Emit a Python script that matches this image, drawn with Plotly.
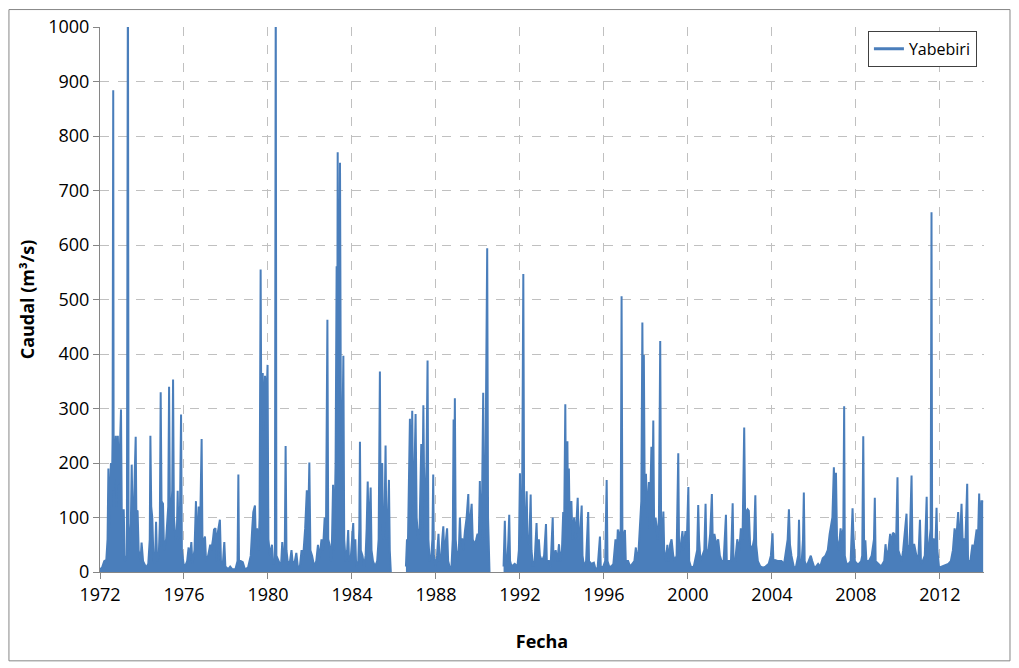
import plotly.graph_objects as go

# Decimal-year positions and daily-flow readings (m3/s)
anio = [
    1972.00, 1972.10, 1972.20, 1972.30, 1972.36, 1972.40, 1972.43, 1972.48, 1972.52, 1972.56,
    1972.60, 1972.63, 1972.65, 1972.70, 1972.75, 1972.78, 1972.85, 1972.90, 1972.95, 1973.00,
    1973.04, 1973.10, 1973.13, 1973.18, 1973.28, 1973.33, 1973.36, 1973.42, 1973.47, 1973.51,
    1973.55, 1973.62, 1973.66, 1973.70, 1973.73, 1973.79, 1973.84, 1973.93, 1973.98, 1974.05,
    1974.20, 1974.30, 1974.37, 1974.40, 1974.44, 1974.49, 1974.55, 1974.62, 1974.67, 1974.72,
    1974.80, 1974.85, 1974.89, 1974.93, 1975.00, 1975.05, 1975.15, 1975.20, 1975.25, 1975.29,
    1975.33, 1975.38, 1975.44, 1975.48, 1975.52, 1975.60, 1975.66, 1975.70, 1975.74, 1975.80,
    1975.86, 1975.90, 1975.98, 1976.05, 1976.15, 1976.22, 1976.27, 1976.35, 1976.40, 1976.50,
    1976.57, 1976.62, 1976.70, 1976.76, 1976.84, 1976.88, 1977.00, 1977.05, 1977.15, 1977.25,
    1977.30, 1977.38, 1977.43, 1977.50, 1977.55, 1977.60, 1977.65, 1977.71, 1977.76, 1977.85,
    1977.92, 1977.97, 1978.10, 1978.20, 1978.30, 1978.45, 1978.55, 1978.59, 1978.62, 1978.70,
    1978.80, 1978.90, 1979.05, 1979.18, 1979.25, 1979.30, 1979.38, 1979.42, 1979.48, 1979.55,
    1979.60, 1979.65, 1979.68, 1979.72, 1979.75, 1979.80, 1979.86, 1979.92, 1979.98, 1980.02,
    1980.10, 1980.19, 1980.25, 1980.33, 1980.37, 1980.40, 1980.50, 1980.62, 1980.68, 1980.75,
    1980.80, 1980.84, 1980.88, 1980.95, 1981.05, 1981.12, 1981.18, 1981.28, 1981.35, 1981.42,
    1981.52, 1981.60, 1981.68, 1981.77, 1981.85, 1981.90, 1981.97, 1982.02, 1982.10, 1982.20,
    1982.30, 1982.38, 1982.45, 1982.55, 1982.62, 1982.70, 1982.76, 1982.83, 1982.87, 1982.93,
    1983.00, 1983.05, 1983.10, 1983.15, 1983.22, 1983.27, 1983.30, 1983.32, 1983.36, 1983.40,
    1983.43, 1983.47, 1983.52, 1983.56, 1983.59, 1983.63, 1983.70, 1983.77, 1983.82, 1983.86,
    1983.95, 1984.00, 1984.06, 1984.10, 1984.16, 1984.20, 1984.30, 1984.35, 1984.38, 1984.42,
    1984.50, 1984.58, 1984.65, 1984.70, 1984.75, 1984.80, 1984.85, 1984.89, 1984.93, 1985.00,
    1985.10, 1985.20, 1985.27, 1985.33, 1985.37, 1985.44, 1985.48, 1985.55, 1985.60, 1985.64,
    1985.70, 1985.76, 1985.80, 1985.85, 1985.86, 1986.56, 1986.57, 1986.62, 1986.66, 1986.72,
    1986.76, 1986.80, 1986.84, 1986.87, 1986.91, 1986.96, 1987.03, 1987.08, 1987.15, 1987.22,
    1987.30, 1987.34, 1987.40, 1987.44, 1987.50, 1987.55, 1987.60, 1987.64, 1987.70, 1987.78,
    1987.83, 1987.87, 1987.90, 1987.98, 1988.05, 1988.12, 1988.17, 1988.25, 1988.30, 1988.35,
    1988.40, 1988.47, 1988.53, 1988.58, 1988.66, 1988.74, 1988.80, 1988.84, 1988.87, 1988.90,
    1988.94, 1989.02, 1989.09, 1989.14, 1989.18, 1989.25, 1989.30, 1989.38, 1989.46, 1989.54,
    1989.58, 1989.64, 1989.70, 1989.75, 1989.82, 1989.92, 1989.98, 1990.04, 1990.09, 1990.13,
    1990.20, 1990.25, 1990.29, 1990.35, 1990.40, 1990.44, 1990.48, 1990.53, 1990.55, 1990.56,
    1991.20, 1991.22, 1991.28, 1991.32, 1991.40, 1991.45, 1991.49, 1991.53, 1991.60, 1991.75,
    1991.88, 1991.95, 1992.00, 1992.04, 1992.10, 1992.16, 1992.20, 1992.26, 1992.32, 1992.36,
    1992.44, 1992.51, 1992.55, 1992.62, 1992.70, 1992.79, 1992.83, 1992.90, 1992.95, 1993.05,
    1993.15, 1993.24, 1993.28, 1993.38, 1993.46, 1993.56, 1993.60, 1993.70, 1993.78, 1993.86,
    1993.92, 1994.00, 1994.06, 1994.10, 1994.16, 1994.19, 1994.26, 1994.29, 1994.33, 1994.37,
    1994.45, 1994.50, 1994.58, 1994.65, 1994.75, 1994.80, 1994.88, 1994.94, 1994.98, 1995.05,
    1995.15, 1995.25, 1995.29, 1995.40, 1995.52, 1995.60, 1995.70, 1995.81, 1995.85, 1995.95,
    1996.06, 1996.13, 1996.17, 1996.25, 1996.35, 1996.45, 1996.55, 1996.60, 1996.66, 1996.72,
    1996.80, 1996.84, 1996.88, 1997.00, 1997.04, 1997.15, 1997.25, 1997.35, 1997.45, 1997.52,
    1997.57, 1997.65, 1997.72, 1997.78, 1997.83, 1997.87, 1997.90, 1997.94, 1998.00, 1998.06,
    1998.14, 1998.18, 1998.26, 1998.30, 1998.35, 1998.39, 1998.46, 1998.55, 1998.62, 1998.68,
    1998.72, 1998.78, 1998.83, 1998.87, 1998.95, 1999.02, 1999.08, 1999.15, 1999.22, 1999.30,
    1999.38, 1999.46, 1999.54, 1999.58, 1999.66, 1999.74, 1999.80, 1999.88, 1999.95, 2000.02,
    2000.06, 2000.15, 2000.28, 2000.38, 2000.44, 2000.49, 2000.53, 2000.60, 2000.70, 2000.78,
    2000.84, 2000.88, 2000.98, 2001.06, 2001.14, 2001.18, 2001.26, 2001.35, 2001.44, 2001.52,
    2001.60, 2001.70, 2001.81, 2001.85, 2001.95, 2002.05, 2002.13, 2002.17, 2002.25, 2002.35,
    2002.45, 2002.52, 2002.60, 2002.68, 2002.72, 2002.78, 2002.84, 2002.90, 2002.96, 2003.05,
    2003.15, 2003.21, 2003.25, 2003.33, 2003.45, 2003.58, 2003.70, 2003.85, 2003.95, 2004.03,
    2004.07, 2004.15, 2004.30, 2004.45, 2004.58, 2004.68, 2004.75, 2004.81, 2004.86, 2004.93,
    2005.05, 2005.15, 2005.25, 2005.29, 2005.33, 2005.42, 2005.48, 2005.52, 2005.56, 2005.65,
    2005.75, 2005.85, 2005.92, 2006.02, 2006.10, 2006.20, 2006.30, 2006.42, 2006.55, 2006.66,
    2006.75, 2006.82, 2006.88, 2006.95, 2007.00, 2007.05, 2007.10, 2007.18, 2007.27, 2007.32,
    2007.40, 2007.44, 2007.47, 2007.55, 2007.65, 2007.75, 2007.84, 2007.88, 2007.95, 2008.05,
    2008.15, 2008.25, 2008.30, 2008.35, 2008.39, 2008.45, 2008.50, 2008.62, 2008.75, 2008.86,
    2008.90, 2008.94, 2009.05, 2009.20, 2009.35, 2009.41, 2009.46, 2009.55, 2009.63, 2009.70,
    2009.76, 2009.82, 2009.90, 2009.98, 2010.02, 2010.10, 2010.18, 2010.25, 2010.32, 2010.41,
    2010.45, 2010.55, 2010.65, 2010.69, 2010.78, 2010.88, 2010.98, 2011.05, 2011.10, 2011.18,
    2011.28, 2011.37, 2011.41, 2011.50, 2011.56, 2011.60, 2011.63, 2011.70, 2011.78, 2011.84,
    2011.88, 2011.96, 2012.10, 2012.25, 2012.40, 2012.52, 2012.62, 2012.70, 2012.78, 2012.87,
    2012.92, 2012.98, 2013.03, 2013.08, 2013.15, 2013.22, 2013.30, 2013.34, 2013.45, 2013.55,
    2013.62, 2013.70, 2013.75, 2013.80, 2013.87, 2013.92, 2013.98, 2014.06,
]

caudal = [
    5, 8, 20, 22, 60, 190, 80, 150, 200, 120,
    250, 884, 150, 200, 250, 120, 250, 160, 250, 298,
    90, 60, 115, 20, 30, 1150, 40, 60, 90, 197,
    100, 120, 190, 248, 110, 113, 40, 20, 54, 20,
    8, 15, 60, 250, 120, 100, 20, 15, 92, 20,
    30, 90, 330, 130, 125, 40, 60, 100, 120, 340,
    120, 100, 150, 353, 100, 60, 70, 149, 60, 80,
    289, 40, 15, 10, 20, 45, 20, 55, 15, 40,
    130, 40, 120, 60, 244, 50, 65, 20, 30, 50,
    40, 60, 78, 80, 20, 70, 85, 96, 20, 15,
    55, 10, 5, 10, 5, 5, 20, 179, 20, 20,
    18, 5, 8, 30, 80, 110, 122, 60, 80, 40,
    100, 555, 300, 360, 365, 260, 360, 300, 380, 60,
    30, 50, 15, 20, 1100, 30, 20, 10, 55, 20,
    40, 231, 40, 15, 20, 40, 15, 20, 35, 10,
    10, 40, 30, 80, 150, 60, 201, 40, 30, 10,
    20, 50, 25, 60, 40, 100, 60, 463, 60, 50,
    20, 60, 160, 40, 200, 561, 360, 770, 380, 360,
    751, 300, 250, 300, 397, 60, 20, 40, 77, 20,
    30, 60, 90, 30, 60, 10, 20, 80, 239, 40,
    30, 10, 30, 80, 166, 60, 100, 155, 40, 20,
    10, 20, 60, 368, 80, 200, 60, 100, 232, 60,
    80, 169, 40, 0, None, None, 10, 60, 40, 150,
    281, 100, 200, 296, 120, 150, 290, 100, 60, 80,
    235, 80, 306, 150, 130, 200, 388, 60, 20, 30,
    60, 179, 30, 10, 30, 70, 20, 30, 60, 84,
    30, 60, 80, 20, 8, 10, 60, 280, 150, 319,
    60, 20, 40, 100, 60, 60, 40, 75, 100, 143,
    60, 100, 125, 60, 50, 60, 70, 60, 167, 60,
    150, 329, 60, 150, 330, 594, 100, 30, 0, None,
    None, 10, 94, 30, 20, 60, 105, 20, 10, 15,
    10, 40, 181, 60, 100, 547, 100, 80, 148, 60,
    50, 142, 40, 10, 20, 90, 40, 60, 30, 20,
    30, 88, 20, 20, 10, 100, 20, 40, 20, 51,
    20, 40, 110, 60, 308, 120, 240, 100, 190, 80,
    130, 60, 100, 60, 136, 60, 80, 122, 30, 10,
    20, 110, 20, 15, 17, 5, 8, 65, 10, 8,
    20, 169, 20, 10, 10, 15, 60, 20, 78, 60,
    80, 506, 60, 77, 20, 20, 10, 15, 20, 45,
    20, 40, 100, 130, 458, 200, 398, 150, 180, 100,
    165, 80, 230, 100, 278, 80, 100, 60, 100, 424,
    100, 60, 111, 40, 20, 50, 20, 50, 60, 30,
    20, 30, 218, 30, 50, 75, 40, 75, 60, 156,
    20, 8, 10, 30, 40, 123, 60, 20, 30, 40,
    125, 40, 40, 70, 143, 60, 70, 50, 60, 30,
    20, 20, 105, 20, 20, 20, 126, 20, 20, 60,
    40, 80, 60, 265, 115, 110, 115, 112, 50, 40,
    60, 141, 50, 20, 10, 8, 10, 15, 30, 71,
    20, 22, 20, 20, 15, 40, 60, 115, 50, 30,
    8, 10, 30, 96, 20, 20, 60, 146, 20, 10,
    20, 30, 20, 8, 10, 15, 10, 25, 30, 40,
    70, 90, 100, 192, 120, 182, 60, 40, 80, 60,
    80, 304, 30, 15, 15, 20, 117, 70, 20, 15,
    15, 20, 30, 249, 50, 58, 20, 20, 30, 60,
    136, 20, 15, 10, 20, 51, 30, 40, 70, 50,
    72, 70, 30, 174, 40, 30, 20, 40, 70, 107,
    50, 40, 177, 50, 50, 30, 30, 96, 15, 20,
    30, 138, 20, 60, 80, 660, 60, 60, 40, 118,
    40, 8, 10, 12, 15, 20, 40, 80, 60, 110,
    60, 80, 125, 60, 60, 60, 162, 20, 20, 50,
    40, 60, 78, 40, 144, 60, 130, 130,
]

serie = "Yabebiri"
x_ticks = [1972, 1976, 1980, 1984, 1988, 1992, 1996, 2000, 2004, 2008, 2012]
x_tick_labels = [str(v) for v in x_ticks]
y_ticks = [0, 100, 200, 300, 400, 500, 600, 700, 800, 900, 1000]

color = "#4a7ebb"
font_family = "Open Sans, Liberation Sans, sans-serif"

# split the record at missing-data gaps (None) so the filled area breaks there
segments = []
cur_x, cur_y = [], []
for xv, yv in zip(anio, caudal):
    if yv is None:
        if cur_x:
            segments.append((cur_x, cur_y))
        cur_x, cur_y = [], []
    else:
        cur_x.append(xv)
        cur_y.append(yv)
if cur_x:
    segments.append((cur_x, cur_y))

fig = go.Figure()
for sx, sy in segments:
    fig.add_trace(go.Scatter(
        x=sx, y=sy, mode="lines", name=serie, legendgroup=serie, showlegend=False,
        line=dict(color=color, width=2),
        fill="tozeroy", fillcolor=color,
    ))
# legend entry drawn as a plain line, like the original
fig.add_trace(go.Scatter(
    x=[None], y=[None], mode="lines", name=serie, legendgroup=serie, showlegend=True,
    line=dict(color=color, width=3),
))

fig.update_layout(
    width=1011, height=660,
    margin=dict(l=92, r=35, t=19, b=96),
    paper_bgcolor="white", plot_bgcolor="white",
    font=dict(family=font_family, size=18, color="#000000"),
    showlegend=True,
    legend=dict(
        x=0.992, y=0.993, xanchor="right", yanchor="top",
        bgcolor="white", bordercolor="#404040", borderwidth=1,
        font=dict(size=16), itemwidth=30, tracegroupgap=0,
    ),
    xaxis=dict(
        range=[1972, 2014.1], tickmode="array", tickvals=x_ticks, ticktext=x_tick_labels,
        showgrid=True, gridcolor="#c0c0c0", griddash="dash", gridwidth=1,
        showline=True, linecolor="#868686", linewidth=1,
        ticks="outside", ticklen=6, tickcolor="#868686",
        zeroline=False, automargin=False,
        title=dict(text="<b>Fecha</b>", standoff=30, font=dict(size=18)),
    ),
    yaxis=dict(
        range=[0, 1000], tickmode="array", tickvals=y_ticks,
        showgrid=True, gridcolor="#c0c0c0", griddash="dash", gridwidth=1,
        showline=True, linecolor="#868686", linewidth=1,
        ticks="outside", ticklen=6, tickcolor="#868686",
        zeroline=False, automargin=False,
        title=dict(text="<b>Caudal (m³/s)</b>", standoff=8, font=dict(size=18)),
    ),
    shapes=[dict(
        type="rect", xref="paper", yref="paper",
        x0=-0.103, x1=1.0294, y0=-0.163, y1=1.032,
        line=dict(color="#868686", width=1), fillcolor="rgba(0,0,0,0)", layer="below",
    )],
)

fig.write_html("out.html")
